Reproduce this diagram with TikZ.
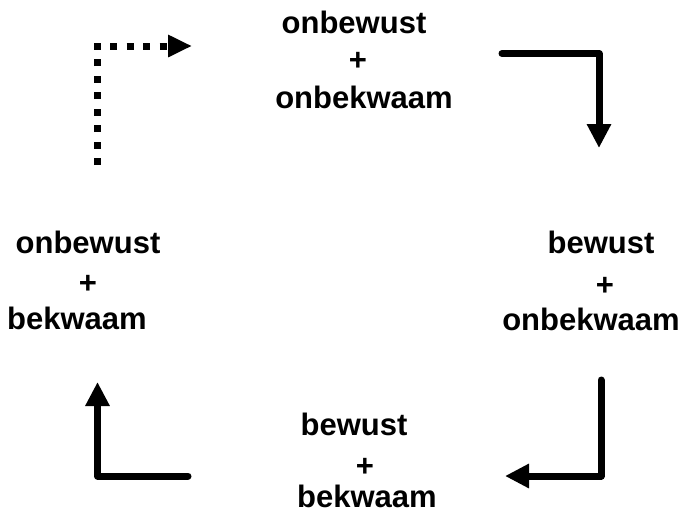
\documentclass[tikz,border=0pt]{standalone}
\usepackage{fontspec}
\setmainfont{Liberation Sans}
\usetikzlibrary{arrows.meta}

\tikzset{
  lbl/.style={anchor=base, inner sep=0pt, font=\fontsize{31}{37}\selectfont\bfseries},
  flow/.style={line width=7pt, line join=round, line cap=round,
    -{Triangle[length=24pt, width=23pt]}},
  dotflow/.style={line width=7pt, line cap=butt, line join=miter,
    dash pattern=on 7pt off 9.5pt,
    -{Triangle[length=24pt, width=21pt]}}
}

\begin{document}
\begin{tikzpicture}[x=1pt, y=-1pt]
  \useasboundingbox (0,0) rectangle (691,515);

  % top stage
  \node[lbl] (t1) at (354,33) {onbewust};
  \node[lbl] (t2) at (358,70) {+};
  \node[lbl] (t3) at (364,108) {onbekwaam};

  % right stage
  \node[lbl] (r1) at (601,253) {bewust};
  \node[lbl] (r2) at (605,295) {+};
  \node[lbl] (r3) at (591,330) {onbekwaam};

  % bottom stage
  \node[lbl] (b1) at (354,435) {bewust};
  \node[lbl] (b2) at (365,476) {+};
  \node[lbl] (b3) at (367,507) {bekwaam};

  % left stage
  \node[lbl] (l1) at (88,253) {onbewust};
  \node[lbl] (l2) at (88,293) {+};
  \node[lbl] (l3) at (77,329) {bekwaam};

  % bends of the cycle arrows
  \coordinate (a1s) at (502,53.5);  \coordinate (a1c) at (599,53.5);  \coordinate (a1e) at (599,148);
  \coordinate (a2s) at (601,380);   \coordinate (a2c) at (601,476);   \coordinate (a2e) at (505,476);
  \coordinate (a3s) at (188,476);   \coordinate (a3c) at (97.5,476);  \coordinate (a3e) at (97.5,382);
  \coordinate (a4s) at (97,165);    \coordinate (a4c) at (97,46);     \coordinate (a4e) at (192,46);

  \draw[flow] (a1s) -- (a1c) -- (a1e);
  \draw[flow] (a2s) -- (a2c) -- (a2e);
  \draw[flow] (a3s) -- (a3c) -- (a3e);
  \draw[dotflow] (a4s) -- (a4c) -- (a4e);
\end{tikzpicture}
\end{document}
